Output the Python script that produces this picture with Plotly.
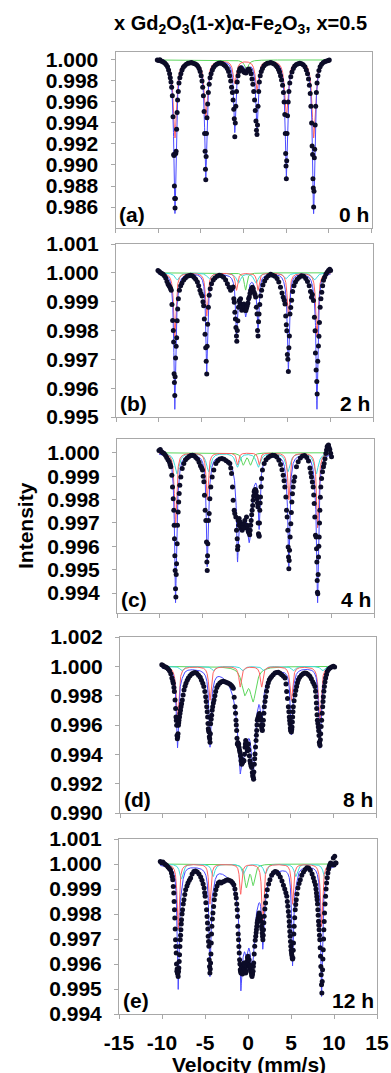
import numpy as np
import plotly.graph_objects as go

W, H = 391, 1073
FONT = "Liberation Sans, Arial, sans-serif"

# ---- measured spectra: (velocity mm/s, relative transmission) ----
DOTS_A = [
    (-10.10, 1.00000), (-9.95, 0.99995), (-9.80, 1.00002), (-9.65, 0.99990), (-9.50, 0.99985),
    (-9.35, 0.99978), (-9.20, 0.99968), (-9.05, 0.99955), (-8.90, 0.99935), (-8.78, 0.99905),
    (-8.66, 0.99870), (-8.58, 0.99830), (-8.50, 0.99790), (-8.42, 0.99740), (-8.34, 0.99660),
    (-8.26, 0.99460), (-8.18, 0.99100), (-8.14, 0.99090), (-8.10, 0.98800), (-8.06, 0.98680),
    (-8.02, 0.98590), (-7.98, 0.98680), (-7.94, 0.99110), (-7.90, 0.99130), (-7.84, 0.99340),
    (-7.78, 0.99500), (-7.72, 0.99620), (-7.64, 0.99700), (-7.56, 0.99780), (-7.46, 0.99830),
    (-7.34, 0.99870), (-7.20, 0.99905), (-7.05, 0.99930), (-6.90, 0.99945), (-6.70, 0.99960),
    (-6.50, 0.99968), (-6.30, 0.99972), (-6.10, 0.99975), (-5.90, 0.99970), (-5.70, 0.99965),
    (-5.50, 0.99955), (-5.35, 0.99940), (-5.20, 0.99920), (-5.08, 0.99890), (-4.96, 0.99850),
    (-4.86, 0.99800), (-4.78, 0.99740), (-4.70, 0.99660), (-4.62, 0.99510), (-4.56, 0.99300),
    (-4.50, 0.99130), (-4.46, 0.98960), (-4.42, 0.98860), (-4.38, 0.99080), (-4.34, 0.99300),
    (-4.28, 0.99450), (-4.20, 0.99580), (-4.12, 0.99690), (-4.02, 0.99770), (-3.92, 0.99830),
    (-3.80, 0.99870), (-3.65, 0.99905), (-3.50, 0.99930), (-3.30, 0.99950), (-3.10, 0.99962),
    (-2.90, 0.99968), (-2.70, 0.99972), (-2.50, 0.99966), (-2.30, 0.99955), (-2.10, 0.99940),
    (-1.90, 0.99920), (-1.75, 0.99890), (-1.62, 0.99850), (-1.50, 0.99800), (-1.40, 0.99740),
    (-1.30, 0.99690), (-1.22, 0.99620), (-1.14, 0.99530), (-1.08, 0.99440), (-1.02, 0.99270),
    (-0.96, 0.99400), (-0.90, 0.99560), (-0.82, 0.99700), (-0.74, 0.99790), (-0.64, 0.99850),
    (-0.54, 0.99890), (-0.44, 0.99915), (-0.32, 0.99925), (-0.20, 0.99915), (-0.08, 0.99900),
    (0.04, 0.99885), (0.16, 0.99880), (0.28, 0.99875), (0.40, 0.99890), (0.50, 0.99910),
    (0.62, 0.99915), (0.75, 0.99900), (0.88, 0.99870), (1.00, 0.99820), (1.10, 0.99770),
    (1.20, 0.99700), (1.30, 0.99620), (1.38, 0.99520), (1.46, 0.99420), (1.52, 0.99330),
    (1.58, 0.99290), (1.64, 0.99380), (1.70, 0.99560), (1.78, 0.99700), (1.86, 0.99790),
    (1.96, 0.99850), (2.08, 0.99890), (2.22, 0.99920), (2.40, 0.99945), (2.60, 0.99960),
    (2.80, 0.99968), (3.00, 0.99972), (3.20, 0.99975), (3.40, 0.99970), (3.60, 0.99962),
    (3.80, 0.99948), (3.95, 0.99932), (4.10, 0.99910), (4.22, 0.99885), (4.34, 0.99850),
    (4.46, 0.99810), (4.58, 0.99760), (4.68, 0.99690), (4.76, 0.99600), (4.84, 0.99480),
    (4.90, 0.99300), (4.94, 0.99110), (4.98, 0.98990), (5.02, 0.98870), (5.06, 0.99040),
    (5.10, 0.99300), (5.16, 0.99470), (5.24, 0.99600), (5.32, 0.99700), (5.42, 0.99780),
    (5.54, 0.99840), (5.68, 0.99885), (5.84, 0.99920), (6.00, 0.99942), (6.20, 0.99958),
    (6.40, 0.99965), (6.60, 0.99970), (6.80, 0.99965), (7.00, 0.99955), (7.20, 0.99935),
    (7.36, 0.99905), (7.50, 0.99870), (7.62, 0.99820), (7.72, 0.99760), (7.82, 0.99680),
    (7.90, 0.99560), (7.98, 0.99400), (8.04, 0.99180), (8.10, 0.99100), (8.14, 0.98870),
    (8.18, 0.98780), (8.22, 0.98600), (8.26, 0.98750), (8.30, 0.99070), (8.34, 0.99150),
    (8.40, 0.99380), (8.46, 0.99560), (8.54, 0.99690), (8.62, 0.99780), (8.72, 0.99850),
    (8.84, 0.99900), (8.98, 0.99935), (9.15, 0.99960), (9.35, 0.99975), (9.55, 0.99985),
    (9.75, 0.99990), (9.95, 0.99995), (10.05, 1.00000),
]

DOTS_B = [
    (-10.10, 1.00008), (-9.95, 1.00005), (-9.80, 1.00000), (-9.65, 0.99998), (-9.50, 0.99995),
    (-9.35, 0.99990), (-9.20, 0.99982), (-9.05, 0.99970), (-8.92, 0.99960), (-8.80, 0.99955),
    (-8.70, 0.99950), (-8.62, 0.99945), (-8.55, 0.99940), (-8.47, 0.99890), (-8.39, 0.99835),
    (-8.31, 0.99800), (-8.27, 0.99760), (-8.22, 0.99650), (-8.18, 0.99620), (-8.14, 0.99575),
    (-8.10, 0.99640), (-8.05, 0.99705), (-7.98, 0.99745), (-7.92, 0.99775), (-7.86, 0.99834),
    (-7.80, 0.99875), (-7.72, 0.99910), (-7.60, 0.99940), (-7.45, 0.99955), (-7.30, 0.99965),
    (-7.10, 0.99975), (-6.90, 0.99982), (-6.70, 0.99988), (-6.50, 0.99990), (-6.30, 0.99992),
    (-6.10, 0.99990), (-5.90, 0.99985), (-5.70, 0.99978), (-5.50, 0.99968), (-5.35, 0.99955),
    (-5.20, 0.99940), (-5.08, 0.99928), (-4.95, 0.99920), (-4.85, 0.99900), (-4.77, 0.99886),
    (-4.69, 0.99840), (-4.61, 0.99787), (-4.53, 0.99740), (-4.47, 0.99693), (-4.41, 0.99649),
    (-4.36, 0.99745), (-4.30, 0.99822), (-4.22, 0.99881), (-4.12, 0.99922), (-4.00, 0.99945),
    (-3.85, 0.99962), (-3.65, 0.99975), (-3.45, 0.99982), (-3.20, 0.99988), (-2.95, 0.99992),
    (-2.70, 0.99990), (-2.45, 0.99985), (-2.20, 0.99975), (-2.00, 0.99962), (-1.80, 0.99950),
    (-1.62, 0.99940), (-1.48, 0.99945), (-1.33, 0.99951), (-1.25, 0.99910), (-1.19, 0.99898),
    (-1.13, 0.99863), (-1.06, 0.99840), (-1.00, 0.99810), (-0.94, 0.99781), (-0.90, 0.99763),
    (-0.84, 0.99800), (-0.78, 0.99834), (-0.70, 0.99881), (-0.62, 0.99904), (-0.54, 0.99895),
    (-0.46, 0.99910), (-0.40, 0.99890), (-0.32, 0.99870), (-0.24, 0.99875), (-0.16, 0.99885),
    (-0.08, 0.99892), (0.00, 0.99880), (0.08, 0.99870), (0.16, 0.99869), (0.24, 0.99878),
    (0.32, 0.99886), (0.40, 0.99895), (0.48, 0.99910), (0.56, 0.99916), (0.64, 0.99928),
    (0.72, 0.99939), (0.82, 0.99945), (0.92, 0.99950), (1.02, 0.99945), (1.12, 0.99933),
    (1.22, 0.99925), (1.30, 0.99916), (1.38, 0.99881), (1.46, 0.99857), (1.52, 0.99800),
    (1.58, 0.99781), (1.64, 0.99830), (1.70, 0.99857), (1.78, 0.99890), (1.88, 0.99920),
    (2.00, 0.99940), (2.15, 0.99958), (2.35, 0.99972), (2.55, 0.99982), (2.80, 0.99990),
    (3.05, 0.99995), (3.30, 0.99992), (3.55, 0.99988), (3.80, 0.99980), (4.00, 0.99968),
    (4.20, 0.99950), (4.38, 0.99930), (4.52, 0.99915), (4.64, 0.99905), (4.73, 0.99892),
    (4.81, 0.99850), (4.88, 0.99820), (4.94, 0.99799), (5.00, 0.99717), (5.06, 0.99700),
    (5.12, 0.99658), (5.18, 0.99740), (5.24, 0.99781), (5.31, 0.99857), (5.40, 0.99880),
    (5.50, 0.99905), (5.62, 0.99935), (5.78, 0.99955), (5.95, 0.99968), (6.15, 0.99978),
    (6.40, 0.99985), (6.65, 0.99990), (6.90, 0.99988), (7.15, 0.99980), (7.35, 0.99970),
    (7.55, 0.99955), (7.70, 0.99935), (7.82, 0.99915), (7.92, 0.99925), (8.05, 0.99904),
    (8.16, 0.99846), (8.24, 0.99799), (8.28, 0.99722), (8.36, 0.99663), (8.44, 0.99623),
    (8.48, 0.99580), (8.55, 0.99693), (8.63, 0.99746), (8.69, 0.99780), (8.75, 0.99828),
    (8.83, 0.99881), (8.92, 0.99910), (9.02, 0.99933), (9.12, 0.99955), (9.22, 0.99974),
    (9.35, 0.99985), (9.50, 0.99995), (9.65, 1.00002), (9.80, 1.00008), (9.95, 1.00012),
    (10.05, 1.00008),
]

DOTS_C = [
    (-10.10, 1.00010), (-9.95, 1.00014), (-9.80, 1.00005), (-9.65, 1.00000), (-9.50, 0.99997),
    (-9.35, 0.99990), (-9.20, 0.99980), (-9.05, 0.99970), (-8.90, 0.99962), (-8.80, 0.99950),
    (-8.72, 0.99940), (-8.60, 0.99904), (-8.52, 0.99854), (-8.44, 0.99804), (-8.37, 0.99754),
    (-8.33, 0.99690), (-8.29, 0.99633), (-8.25, 0.99560), (-8.21, 0.99497), (-8.17, 0.99419),
    (-8.13, 0.99383), (-8.09, 0.99480), (-8.05, 0.99526), (-7.98, 0.99611), (-7.94, 0.99690),
    (-7.86, 0.99747), (-7.80, 0.99790), (-7.74, 0.99826), (-7.67, 0.99861), (-7.55, 0.99897),
    (-7.39, 0.99933), (-7.20, 0.99954), (-7.00, 0.99970), (-6.80, 0.99978), (-6.60, 0.99984),
    (-6.40, 0.99988), (-6.20, 0.99990), (-6.00, 0.99987), (-5.80, 0.99980), (-5.60, 0.99972),
    (-5.42, 0.99960), (-5.26, 0.99945), (-5.12, 0.99935), (-5.02, 0.99926), (-4.94, 0.99900),
    (-4.86, 0.99876), (-4.79, 0.99819), (-4.71, 0.99754), (-4.63, 0.99711), (-4.55, 0.99619),
    (-4.51, 0.99533), (-4.47, 0.99497), (-4.43, 0.99560), (-4.40, 0.99611), (-4.32, 0.99711),
    (-4.24, 0.99740), (-4.16, 0.99804), (-4.05, 0.99854), (-3.89, 0.99897), (-3.70, 0.99926),
    (-3.46, 0.99954), (-3.25, 0.99966), (-3.00, 0.99974), (-2.75, 0.99976), (-2.50, 0.99972),
    (-2.25, 0.99966), (-2.00, 0.99960), (-1.83, 0.99954), (-1.72, 0.99935), (-1.63, 0.99911),
    (-1.52, 0.99854), (-1.44, 0.99797), (-1.32, 0.99754), (-1.25, 0.99740), (-1.13, 0.99726),
    (-1.05, 0.99669), (-0.97, 0.99633), (-0.93, 0.99586), (-0.90, 0.99600), (-0.86, 0.99711),
    (-0.80, 0.99690), (-0.74, 0.99719), (-0.68, 0.99700), (-0.62, 0.99704), (-0.56, 0.99680),
    (-0.51, 0.99690), (-0.45, 0.99675), (-0.39, 0.99669), (-0.33, 0.99690), (-0.27, 0.99683),
    (-0.19, 0.99697), (-0.13, 0.99680), (-0.08, 0.99711), (0.04, 0.99683), (0.12, 0.99726),
    (0.19, 0.99690), (0.25, 0.99675), (0.31, 0.99666), (0.37, 0.99660), (0.43, 0.99657),
    (0.49, 0.99650), (0.54, 0.99669), (0.60, 0.99690), (0.66, 0.99711), (0.72, 0.99735),
    (0.78, 0.99754), (0.84, 0.99775), (0.89, 0.99797), (0.95, 0.99815), (1.01, 0.99833),
    (1.07, 0.99840), (1.13, 0.99843), (1.19, 0.99840), (1.25, 0.99833), (1.31, 0.99815),
    (1.36, 0.99804), (1.40, 0.99785), (1.44, 0.99769), (1.48, 0.99700), (1.52, 0.99654),
    (1.56, 0.99648), (1.60, 0.99643), (1.63, 0.99700), (1.67, 0.99754), (1.71, 0.99785),
    (1.75, 0.99811), (1.81, 0.99855), (1.87, 0.99890), (1.98, 0.99926), (2.18, 0.99954),
    (2.40, 0.99970), (2.65, 0.99980), (2.90, 0.99986), (3.15, 0.99990), (3.40, 0.99988),
    (3.65, 0.99982), (3.90, 0.99968), (4.10, 0.99950), (4.26, 0.99928), (4.40, 0.99904),
    (4.50, 0.99880), (4.59, 0.99854), (4.71, 0.99811), (4.79, 0.99754), (4.86, 0.99726),
    (4.94, 0.99669), (4.98, 0.99597), (5.02, 0.99554), (5.06, 0.99504), (5.10, 0.99540),
    (5.14, 0.99583), (5.21, 0.99640), (5.29, 0.99697), (5.35, 0.99745), (5.41, 0.99790),
    (5.48, 0.99825), (5.56, 0.99854), (5.65, 0.99878), (5.75, 0.99897), (5.95, 0.99940),
    (6.15, 0.99962), (6.40, 0.99978), (6.65, 0.99986), (6.90, 0.99988), (7.15, 0.99980),
    (7.35, 0.99965), (7.52, 0.99935), (7.62, 0.99915), (7.70, 0.99897), (7.80, 0.99875),
    (7.90, 0.99854), (7.96, 0.99820), (8.02, 0.99783), (8.09, 0.99726), (8.17, 0.99647),
    (8.25, 0.99640), (8.29, 0.99590), (8.33, 0.99533), (8.37, 0.99454), (8.40, 0.99404),
    (8.44, 0.99397), (8.48, 0.99480), (8.52, 0.99554), (8.56, 0.99600), (8.60, 0.99640),
    (8.64, 0.99700), (8.68, 0.99754), (8.74, 0.99810), (8.79, 0.99854), (8.88, 0.99890),
    (8.99, 0.99919), (9.10, 0.99940), (9.18, 0.99954), (9.28, 0.99975), (9.38, 0.99997),
    (9.46, 1.00012), (9.53, 1.00026), (9.61, 1.00030), (9.69, 1.00033), (9.76, 1.00022),
    (9.84, 1.00014), (9.94, 0.99998), (10.04, 0.99983),
]

DOTS_D = [
    (-10.10, 1.00010), (-9.95, 1.00005), (-9.80, 0.99998), (-9.65, 0.99995), (-9.50, 0.99990),
    (-9.35, 0.99982), (-9.20, 0.99970), (-9.05, 0.99950), (-8.92, 0.99920), (-8.82, 0.99900),
    (-8.75, 0.99885), (-8.68, 0.99855), (-8.63, 0.99828), (-8.55, 0.99770), (-8.48, 0.99713),
    (-8.44, 0.99655), (-8.40, 0.99630), (-8.36, 0.99598), (-8.32, 0.99529), (-8.28, 0.99506),
    (-8.24, 0.99520), (-8.20, 0.99540), (-8.16, 0.99598), (-8.12, 0.99615), (-8.09, 0.99632),
    (-8.03, 0.99655), (-7.97, 0.99678), (-7.91, 0.99700), (-7.85, 0.99724), (-7.78, 0.99745),
    (-7.70, 0.99770), (-7.60, 0.99805), (-7.50, 0.99839), (-7.38, 0.99865), (-7.27, 0.99885),
    (-7.12, 0.99905), (-6.99, 0.99920), (-6.80, 0.99935), (-6.60, 0.99948), (-6.40, 0.99955),
    (-6.20, 0.99958), (-6.00, 0.99952), (-5.80, 0.99940), (-5.60, 0.99925), (-5.45, 0.99905),
    (-5.30, 0.99885), (-5.18, 0.99862), (-5.06, 0.99828), (-4.96, 0.99793), (-4.90, 0.99760),
    (-4.84, 0.99724), (-4.78, 0.99690), (-4.73, 0.99655), (-4.69, 0.99610), (-4.65, 0.99575),
    (-4.61, 0.99560), (-4.57, 0.99552), (-4.53, 0.99520), (-4.49, 0.99506), (-4.45, 0.99483),
    (-4.41, 0.99540), (-4.38, 0.99609), (-4.32, 0.99640), (-4.26, 0.99667), (-4.20, 0.99700),
    (-4.14, 0.99724), (-4.06, 0.99750), (-3.98, 0.99770), (-3.88, 0.99800), (-3.79, 0.99828),
    (-3.65, 0.99855), (-3.50, 0.99872), (-3.30, 0.99887), (-3.10, 0.99895), (-2.90, 0.99898),
    (-2.70, 0.99895), (-2.50, 0.99890), (-2.30, 0.99885), (-2.10, 0.99878), (-1.95, 0.99870),
    (-1.83, 0.99860), (-1.72, 0.99851), (-1.62, 0.99790), (-1.52, 0.99724), (-1.46, 0.99680),
    (-1.41, 0.99632), (-1.37, 0.99600), (-1.33, 0.99563), (-1.29, 0.99510), (-1.25, 0.99471),
    (-1.19, 0.99480), (-1.13, 0.99460), (-1.09, 0.99470), (-1.05, 0.99448), (-1.00, 0.99430),
    (-0.94, 0.99414), (-0.88, 0.99390), (-0.82, 0.99356), (-0.78, 0.99370), (-0.74, 0.99333),
    (-0.69, 0.99350), (-0.63, 0.99345), (-0.55, 0.99360), (-0.47, 0.99356), (-0.41, 0.99400),
    (-0.35, 0.99448), (-0.31, 0.99470), (-0.27, 0.99494), (-0.22, 0.99480), (-0.16, 0.99471),
    (-0.12, 0.99450), (-0.08, 0.99425), (-0.02, 0.99440), (0.04, 0.99471), (0.10, 0.99430),
    (0.16, 0.99391), (0.23, 0.99356), (0.29, 0.99340), (0.35, 0.99322), (0.43, 0.99310),
    (0.51, 0.99276), (0.55, 0.99253), (0.59, 0.99260), (0.63, 0.99241), (0.66, 0.99230),
    (0.70, 0.99280), (0.74, 0.99333), (0.78, 0.99370), (0.82, 0.99402), (0.88, 0.99450),
    (0.94, 0.99494), (0.98, 0.99530), (1.02, 0.99563), (1.05, 0.99600), (1.09, 0.99632),
    (1.15, 0.99645), (1.21, 0.99655), (1.27, 0.99668), (1.33, 0.99678), (1.37, 0.99672),
    (1.41, 0.99667), (1.46, 0.99650), (1.52, 0.99632), (1.56, 0.99600), (1.60, 0.99586),
    (1.64, 0.99570), (1.68, 0.99563), (1.74, 0.99600), (1.80, 0.99632), (1.86, 0.99680),
    (1.91, 0.99724), (1.99, 0.99760), (2.07, 0.99793), (2.17, 0.99830), (2.27, 0.99862),
    (2.38, 0.99888), (2.50, 0.99908), (2.63, 0.99920), (2.77, 0.99931), (2.95, 0.99943),
    (3.16, 0.99954), (3.35, 0.99958), (3.55, 0.99959), (3.75, 0.99952), (3.95, 0.99943),
    (4.15, 0.99932), (4.34, 0.99920), (4.45, 0.99880), (4.53, 0.99828), (4.63, 0.99780),
    (4.73, 0.99724), (4.79, 0.99690), (4.84, 0.99655), (4.88, 0.99630), (4.92, 0.99609),
    (4.96, 0.99580), (5.00, 0.99563), (5.04, 0.99560), (5.08, 0.99552), (5.12, 0.99570),
    (5.16, 0.99586), (5.20, 0.99620), (5.23, 0.99655), (5.27, 0.99690), (5.31, 0.99724),
    (5.40, 0.99765), (5.51, 0.99805), (5.60, 0.99835), (5.70, 0.99862), (5.80, 0.99888),
    (5.90, 0.99908), (6.05, 0.99925), (6.25, 0.99940), (6.45, 0.99950), (6.65, 0.99955),
    (6.85, 0.99952), (7.05, 0.99945), (7.25, 0.99932), (7.42, 0.99915), (7.58, 0.99895),
    (7.72, 0.99880), (7.85, 0.99862), (7.91, 0.99830), (7.97, 0.99793), (8.01, 0.99750),
    (8.05, 0.99713), (8.09, 0.99670), (8.13, 0.99632), (8.19, 0.99610), (8.24, 0.99586),
    (8.28, 0.99560), (8.32, 0.99529), (8.36, 0.99483), (8.40, 0.99470), (8.44, 0.99460),
    (8.48, 0.99500), (8.52, 0.99540), (8.57, 0.99590), (8.63, 0.99632), (8.69, 0.99680),
    (8.75, 0.99724), (8.79, 0.99760), (8.83, 0.99793), (8.89, 0.99830), (8.95, 0.99862),
    (9.02, 0.99893), (9.10, 0.99920), (9.20, 0.99945), (9.30, 0.99966), (9.45, 0.99980),
    (9.61, 0.99989), (9.80, 0.99995), (10.00, 1.00000), (10.15, 0.99995),
]

DOTS_E = [
    (-10.20, 1.00010), (-10.05, 1.00005), (-9.90, 1.00008), (-9.75, 1.00002), (-9.60, 0.99998),
    (-9.45, 0.99994), (-9.30, 0.99988), (-9.15, 0.99982), (-9.02, 0.99977), (-8.90, 0.99964),
    (-8.82, 0.99950), (-8.75, 0.99937), (-8.69, 0.99910), (-8.63, 0.99884), (-8.59, 0.99850),
    (-8.55, 0.99817), (-8.51, 0.99784), (-8.47, 0.99740), (-8.43, 0.99697), (-8.39, 0.99670),
    (-8.35, 0.99644), (-8.31, 0.99600), (-8.27, 0.99571), (-8.24, 0.99580), (-8.20, 0.99564),
    (-8.16, 0.99560), (-8.12, 0.99550), (-8.08, 0.99570), (-8.04, 0.99584), (-8.00, 0.99610),
    (-7.96, 0.99637), (-7.92, 0.99670), (-7.88, 0.99697), (-7.84, 0.99715), (-7.80, 0.99737),
    (-7.76, 0.99760), (-7.73, 0.99777), (-7.67, 0.99800), (-7.61, 0.99817), (-7.53, 0.99840),
    (-7.45, 0.99857), (-7.35, 0.99878), (-7.25, 0.99897), (-7.10, 0.99912), (-6.98, 0.99924),
    (-6.82, 0.99935), (-6.67, 0.99944), (-6.50, 0.99960), (-6.30, 0.99970), (-6.10, 0.99972),
    (-5.90, 0.99968), (-5.70, 0.99960), (-5.50, 0.99948), (-5.35, 0.99935), (-5.22, 0.99920),
    (-5.10, 0.99904), (-5.04, 0.99885), (-4.98, 0.99871), (-4.90, 0.99845), (-4.82, 0.99817),
    (-4.76, 0.99790), (-4.71, 0.99764), (-4.67, 0.99740), (-4.63, 0.99711), (-4.59, 0.99690),
    (-4.55, 0.99671), (-4.51, 0.99617), (-4.47, 0.99590), (-4.43, 0.99564), (-4.39, 0.99580),
    (-4.35, 0.99604), (-4.31, 0.99640), (-4.27, 0.99684), (-4.24, 0.99720), (-4.20, 0.99751),
    (-4.14, 0.99780), (-4.08, 0.99804), (-4.00, 0.99830), (-3.92, 0.99857), (-3.83, 0.99878),
    (-3.73, 0.99897), (-3.60, 0.99912), (-3.45, 0.99924), (-3.30, 0.99928), (-3.14, 0.99924),
    (-2.95, 0.99928), (-2.75, 0.99931), (-2.55, 0.99935), (-2.35, 0.99937), (-2.15, 0.99934),
    (-1.96, 0.99931), (-1.80, 0.99925), (-1.65, 0.99917), (-1.52, 0.99900), (-1.44, 0.99880),
    (-1.37, 0.99864), (-1.31, 0.99840), (-1.25, 0.99817), (-1.21, 0.99790), (-1.18, 0.99751),
    (-1.14, 0.99720), (-1.10, 0.99697), (-1.06, 0.99670), (-1.02, 0.99644), (-0.98, 0.99617),
    (-0.94, 0.99600), (-0.90, 0.99577), (-0.86, 0.99570), (-0.82, 0.99564), (-0.77, 0.99590),
    (-0.71, 0.99584), (-0.65, 0.99560), (-0.59, 0.99571), (-0.53, 0.99590), (-0.47, 0.99604),
    (-0.43, 0.99580), (-0.39, 0.99597), (-0.33, 0.99575), (-0.27, 0.99564), (-0.20, 0.99571),
    (-0.16, 0.99590), (-0.12, 0.99611), (-0.06, 0.99625), (0.00, 0.99631), (0.06, 0.99600),
    (0.12, 0.99617), (0.16, 0.99590), (0.20, 0.99597), (0.26, 0.99580), (0.31, 0.99591),
    (0.35, 0.99570), (0.39, 0.99564), (0.43, 0.99555), (0.47, 0.99550), (0.53, 0.99560),
    (0.59, 0.99571), (0.63, 0.99590), (0.67, 0.99604), (0.72, 0.99640), (0.78, 0.99671),
    (0.84, 0.99695), (0.90, 0.99711), (0.94, 0.99725), (0.98, 0.99737), (1.02, 0.99750),
    (1.06, 0.99764), (1.12, 0.99775), (1.18, 0.99784), (1.24, 0.99795), (1.29, 0.99804),
    (1.35, 0.99795), (1.40, 0.99790), (1.45, 0.99784), (1.51, 0.99770), (1.57, 0.99751),
    (1.61, 0.99740), (1.65, 0.99724), (1.69, 0.99710), (1.73, 0.99697), (1.77, 0.99715),
    (1.80, 0.99737), (1.84, 0.99765), (1.88, 0.99791), (1.96, 0.99820), (2.04, 0.99844),
    (2.14, 0.99872), (2.24, 0.99897), (2.40, 0.99920), (2.55, 0.99937), (2.75, 0.99955),
    (2.95, 0.99965), (3.15, 0.99970), (3.35, 0.99968), (3.55, 0.99960), (3.75, 0.99948),
    (3.95, 0.99932), (4.12, 0.99915), (4.27, 0.99900), (4.40, 0.99885), (4.51, 0.99871),
    (4.57, 0.99850), (4.63, 0.99831), (4.69, 0.99810), (4.75, 0.99791), (4.79, 0.99770),
    (4.82, 0.99751), (4.86, 0.99730), (4.90, 0.99711), (4.94, 0.99690), (4.98, 0.99671),
    (5.02, 0.99655), (5.06, 0.99644), (5.10, 0.99635), (5.14, 0.99624), (5.18, 0.99620),
    (5.22, 0.99624), (5.26, 0.99655), (5.29, 0.99684), (5.33, 0.99720), (5.37, 0.99751),
    (5.43, 0.99785), (5.49, 0.99817), (5.55, 0.99838), (5.61, 0.99857), (5.70, 0.99880),
    (5.80, 0.99904), (5.94, 0.99922), (6.08, 0.99937), (6.25, 0.99955), (6.45, 0.99968),
    (6.65, 0.99978), (6.85, 0.99985), (7.05, 0.99984), (7.25, 0.99975), (7.45, 0.99960),
    (7.60, 0.99945), (7.72, 0.99930), (7.84, 0.99917), (7.90, 0.99900), (7.96, 0.99884),
    (8.00, 0.99870), (8.04, 0.99857), (8.08, 0.99840), (8.12, 0.99817), (8.16, 0.99795),
    (8.20, 0.99771), (8.24, 0.99755), (8.27, 0.99737), (8.31, 0.99715), (8.35, 0.99697),
    (8.39, 0.99665), (8.43, 0.99631), (8.47, 0.99590), (8.51, 0.99557), (8.55, 0.99517),
    (8.59, 0.99484), (8.63, 0.99530), (8.67, 0.99577), (8.71, 0.99620), (8.75, 0.99657),
    (8.79, 0.99700), (8.82, 0.99737), (8.86, 0.99770), (8.90, 0.99804), (8.96, 0.99840),
    (9.02, 0.99871), (9.08, 0.99900), (9.14, 0.99924), (9.22, 0.99945), (9.29, 0.99964),
    (9.37, 0.99980), (9.45, 0.99991), (9.53, 0.99998), (9.61, 1.00004), (9.75, 1.00000),
    (9.92, 1.00024), (10.00, 0.99996), (10.08, 1.00031), (10.16, 1.00004), (10.24, 1.00004),
]

# ---- fitted sub-spectra: Lorentzian lines (centres mm/s, depths, FWHM mm/s) ----
RED_A = ([-8.03, -4.42, -1.02, 1.58, 5.02, 8.22], [0.0074, 0.0054, 0.0022, 0.0028, 0.0054, 0.0074], 0.45)
CYAN_A = ([], [], 0.5)
GREEN_A = ([0.35], [0.0009], 0.55)
REST_A = ([-8.03, -4.42, -1.02, 1.58, 5.02, 8.22], [0.0072, 0.0058, 0.0046, 0.0038, 0.0057, 0.0072], 0.24)

RED_B = ([-8.14, -4.41, -0.94, 1.58, 5.12, 8.46], [0.0022, 0.0015, 0.0006, 0.0006, 0.0015, 0.0022], 0.32)
CYAN_B = ([-7.85, -4.15, -0.70, 1.35, 4.85, 8.15], [0.00025, 0.0002, 0.00035, 0.00035, 0.0002, 0.00025], 0.6)
GREEN_B = ([0.12], [0.0006], 0.35)
REST_B = ([-8.14, -4.41, -0.94, 1.58, 5.12, 8.46, -0.30, 0.20],
          [0.0024, 0.0018, 0.0013, 0.0012, 0.0018, 0.0024, 0.0007, 0.0007],
          [0.2, 0.2, 0.2, 0.2, 0.2, 0.2, 0.5, 0.5])

RED_C = ([-8.17, -4.47, -0.93, 1.60, 5.06, 8.42], [0.0032, 0.0020, 0.0005, 0.0005, 0.0020, 0.0032], 0.3)
CYAN_C = ([-8.00, -4.30, -0.95, 1.50, 4.95, 8.25], [0.0009, 0.0008, 0.0006, 0.0006, 0.0008, 0.0009], 0.6)
GREEN_C = ([-0.27, 0.58], [0.0005, 0.0005], 0.45)
REST_C = ([-8.17, -4.47, -0.93, 1.60, 5.06, 8.42, -0.50, 0.40],
          [0.0025, 0.0022, 0.0022, 0.0018, 0.0021, 0.0025, 0.0022, 0.0030],
          [0.2, 0.2, 0.2, 0.2, 0.2, 0.2, 0.8, 0.8])

RED_D = ([-8.26, -4.45, -0.92, 1.60, 5.08, 8.42], [0.0037, 0.0023, 0.0014, 0.0014, 0.0023, 0.0037], 0.35)
CYAN_D = ([-7.77, -4.07, -0.60, 1.85, 5.30, 8.75], [0.0003, 0.0003, 0.0003, 0.0003, 0.0003, 0.0003], 0.5)
GREEN_D = ([-0.40, 0.60], [0.0017, 0.0022], 0.8)
REST_D = ([-8.26, -4.45, -0.92, 1.60, 5.08, 8.42, -0.40, -1.00, 0.62],
          [0.0017, 0.0028, 0.0005, 0.0012, 0.0020, 0.0017, 0.0030, 0.0020, 0.0030],
          [0.25, 0.25, 0.25, 0.25, 0.25, 0.25, 2.4, 0.8, 0.45])

RED_E = ([-8.12, -4.43, -0.85, 1.72, 5.18, 8.55], [0.0026, 0.0016, 0.0012, 0.0024, 0.0016, 0.0025], 0.28)
CYAN_E = ([-7.75, -4.05, -0.55, 2.00, 5.55, 8.95], [0.0006, 0.0005, 0.0004, 0.0004, 0.0005, 0.0006], 0.45)
GREEN_E = ([-0.20, 0.60], [0.0009, 0.0008], 0.45)
REST_E = ([-8.12, -4.43, -0.85, 5.18, 8.55, 0.00, -0.75, 0.45],
          [0.0022, 0.0026, 0.0010, 0.0022, 0.0026, 0.0022, 0.0012, 0.0015],
          [0.22, 0.22, 0.22, 0.22, 0.22, 2.4, 0.5, 0.5])

PANEL_TAGS = ["(a)", "(b)", "(c)", "(d)", "(e)"]
TIME_TAGS = ["0 h", "2 h", "4 h", "8 h", "12 h"]
Y_RANGES = [[0.984, 1.00076], [0.995, 1.001], [0.99315, 1.00059], [0.990, 1.002], [0.994, 1.001]]
Y_TICKS = [
    [0.986, 0.988, 0.990, 0.992, 0.994, 0.996, 0.998, 1.000],
    [0.995, 0.996, 0.997, 0.998, 0.999, 1.000, 1.001],
    [0.994, 0.995, 0.996, 0.997, 0.998, 0.999, 1.000],
    [0.990, 0.992, 0.994, 0.996, 0.998, 1.000, 1.002],
    [0.994, 0.995, 0.996, 0.997, 0.998, 0.999, 1.000, 1.001],
]
VEL_TICKS = [-15, -10, -5, 0, 5, 10, 15]

# plot-area boxes in pixels: left, right, top, bottom
BOXES = [(115.5, 371.5, 52, 228), (116, 373, 244, 417), (117, 374, 439, 613),
         (120, 376, 637, 813), (119, 377, 839, 1014)]

COL_DOT = "#0c0c28"
COL_FIT = "#4a4aff"
COL_RED = "#ff6262"
COL_CYAN = "#3fdcdc"
COL_GREEN = "#5cd65c"
AXIS_GREY = "#a8a8a8"


def absorption(v, comp):
    pos, depth, fwhm = comp
    widths = np.broadcast_to(np.asarray(fwhm, dtype=float), (len(pos),))
    out = np.zeros_like(v)
    for p, d, w in zip(pos, depth, widths):
        out += d / (1.0 + ((v - p) / (w / 2.0)) ** 2)
    return out


panels = [
    (DOTS_A, RED_A, CYAN_A, GREEN_A, REST_A),
    (DOTS_B, RED_B, CYAN_B, GREEN_B, REST_B),
    (DOTS_C, RED_C, CYAN_C, GREEN_C, REST_C),
    (DOTS_D, RED_D, CYAN_D, GREEN_D, REST_D),
    (DOTS_E, RED_E, CYAN_E, GREEN_E, REST_E),
]

fig = go.Figure()
layout = dict(
    width=W, height=H, margin=dict(l=0, r=0, t=0, b=0, autoexpand=False),
    paper_bgcolor="white", plot_bgcolor="white", showlegend=False,
    font=dict(family=FONT, color="black"),
)
annotations = []
bold21 = dict(family=FONT, size=21, color="black", weight="bold")

for i, (dots, red, cyan, green, rest) in enumerate(panels):
    n = "" if i == 0 else str(i + 1)
    vel = np.array([d[0] for d in dots])
    inten = np.array([d[1] for d in dots])
    vfit = np.linspace(vel.min(), vel.max(), 2001)

    a_red = absorption(vfit, red)
    a_cyan = absorption(vfit, cyan)
    a_green = absorption(vfit, green)
    a_total = a_red + a_cyan + a_green + absorption(vfit, rest)

    xa, ya = "x" + n, "y" + n
    fig.add_trace(go.Scatter(x=vfit, y=1 - a_green, mode="lines", line=dict(color=COL_GREEN, width=1),
                             xaxis=xa, yaxis=ya, hoverinfo="skip"))
    if len(cyan[0]):
        fig.add_trace(go.Scatter(x=vfit, y=1 - a_cyan, mode="lines", line=dict(color=COL_CYAN, width=1),
                                 xaxis=xa, yaxis=ya, hoverinfo="skip"))
    fig.add_trace(go.Scatter(x=vfit, y=1 - a_red, mode="lines", line=dict(color=COL_RED, width=1),
                             xaxis=xa, yaxis=ya, hoverinfo="skip"))
    fig.add_trace(go.Scatter(x=vfit, y=1 - a_total, mode="lines", line=dict(color=COL_FIT, width=1),
                             xaxis=xa, yaxis=ya, hoverinfo="skip"))
    fig.add_trace(go.Scatter(x=vel, y=inten, mode="markers",
                             marker=dict(color=COL_DOT, size=5, line=dict(width=0)),
                             xaxis=xa, yaxis=ya))

    left, right, top, bottom = BOXES[i]
    layout["xaxis" + n] = dict(
        domain=[left / W, right / W], anchor=ya, range=[-15, 15],
        tickvals=VEL_TICKS, ticktext=[str(t) for t in VEL_TICKS],
        showticklabels=(i == 4), ticks="outside", ticklen=4, tickcolor=AXIS_GREY,
        showline=True, linecolor=AXIS_GREY, linewidth=1, mirror=True,
        showgrid=False, zeroline=False, ticklabelstandoff=6, tickfont=bold21,
    )
    layout["yaxis" + n] = dict(
        domain=[1 - bottom / H, 1 - top / H], anchor=xa, range=Y_RANGES[i],
        tickvals=Y_TICKS[i], ticktext=[f"{t:.3f}" for t in Y_TICKS[i]],
        ticks="outside", ticklen=4, tickcolor=AXIS_GREY,
        showline=True, linecolor=AXIS_GREY, linewidth=1, mirror=True,
        showgrid=False, zeroline=False, ticklabelstandoff=8, tickfont=bold21,
    )
    ymid = bottom - 14
    annotations.append(dict(text=PANEL_TAGS[i], x=(left + 1.5) / W, y=1 - ymid / H, xref="paper", yref="paper",
                            xanchor="left", yanchor="middle", showarrow=False, font=bold21))
    annotations.append(dict(text=TIME_TAGS[i], x=(right - 1) / W, y=1 - ymid / H, xref="paper", yref="paper",
                            xanchor="right", yanchor="middle", showarrow=False, font=bold21))

annotations.append(dict(
    text="x Gd<sub>2</sub>O<sub>3</sub>(1-x)\u03b1-Fe<sub>2</sub>O<sub>3</sub>, x=0.5",
    x=240 / W, y=1 - 24 / H, xref="paper", yref="paper", xanchor="center", yanchor="middle",
    showarrow=False, font=dict(family=FONT, size=20, color="black", weight="bold")))
annotations.append(dict(
    text="Intensity", x=25 / W, y=1 - 526 / H, xref="paper", yref="paper", textangle=-90,
    xanchor="center", yanchor="middle", showarrow=False, font=bold21))
annotations.append(dict(
    text="Velocity (mm/s)", x=249 / W, y=1 - 1064 / H, xref="paper", yref="paper",
    xanchor="center", yanchor="middle", showarrow=False, font=bold21))

layout["annotations"] = annotations
fig.update_layout(**layout)
fig.write_html("out.html")
